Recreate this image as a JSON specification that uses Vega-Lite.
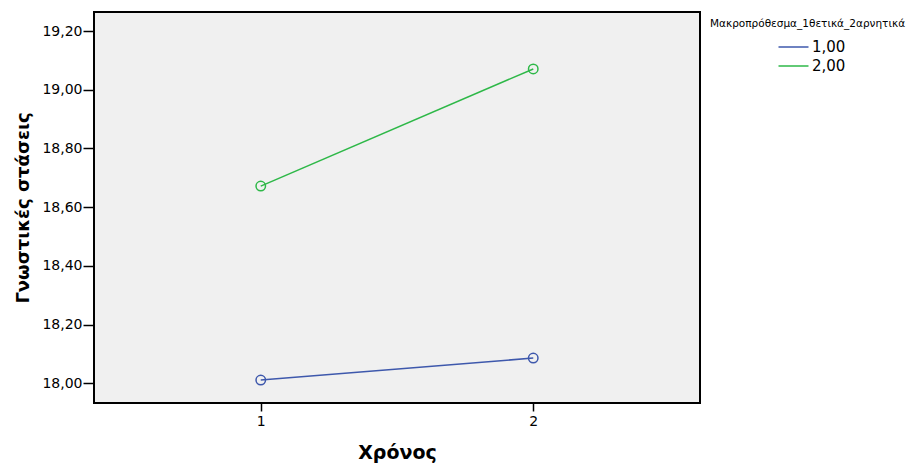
{
  "$schema": "https://vega.github.io/schema/vega-lite/v6.json",
  "width": 606,
  "height": 391,
  "autosize": {"type": "none"},
  "padding": {"left": 94, "top": 12, "right": 218, "bottom": 63},
  "background": "white",
  "config": {
    "locale": {"number": {"decimal": ",", "thousands": ".", "grouping": [3], "currency": ["", " €"]}},
    "view": {"fill": "#f0f0f0", "stroke": "black", "strokeWidth": 2},
    "font": "DejaVu Sans"
  },
  "data": {
    "values": [
      {"time": 1, "group": "1,00", "value": 18.011},
      {"time": 2, "group": "1,00", "value": 18.086},
      {"time": 1, "group": "2,00", "value": 18.672},
      {"time": 2, "group": "2,00", "value": 19.071}
    ]
  },
  "encoding": {
    "x": {
      "field": "time", "type": "quantitative",
      "scale": {"domain": [0.388, 2.612], "nice": false, "zero": false},
      "axis": {
        "values": [1, 2], "format": "d", "grid": false, "domain": false,
        "tickColor": "black", "tickSize": 8, "tickWidth": 1.5,
        "labelFont": "DejaVu Sans", "labelFontSize": 14, "labelColor": "black", "labelPadding": 3,
        "title": "Χρόνος", "titleFont": "DejaVu Sans", "titleFontWeight": "bold", "titleFontSize": 19,
        "titleColor": "black", "titlePadding": 15
      }
    },
    "y": {
      "field": "value", "type": "quantitative",
      "scale": {"domain": [17.933, 19.265], "nice": false, "zero": false},
      "axis": {
        "values": [18.0, 18.2, 18.4, 18.6, 18.8, 19.0, 19.2], "format": ".2f", "grid": false, "domain": false,
        "tickColor": "black", "tickSize": 11, "tickWidth": 1.5,
        "labelFont": "DejaVu Sans", "labelFontSize": 14, "labelColor": "black", "labelPadding": 1,
        "title": "Γνωστικές στάσεις", "titleFont": "DejaVu Sans", "titleFontWeight": "bold", "titleFontSize": 18,
        "titleColor": "black", "titlePadding": 9
      }
    },
    "color": {
      "field": "group", "type": "nominal",
      "scale": {"domain": ["1,00", "2,00"], "range": ["#3e58ac", "#2eb848"]},
      "legend": {
        "orient": "none", "legendX": 616, "legendY": 7, "padding": 0,
        "title": "Μακροπρόθεσμα_1θετικά_2αρνητικά",
        "titleFont": "DejaVu Sans", "titleFontSize": 10.5, "titleFontWeight": "normal", "titleColor": "black",
        "titlePadding": 10, "titleLimit": 400,
        "symbolType": "M-3,0L3,0", "symbolSize": 100, "symbolStrokeWidth": 1.5, "symbolOffset": 76,
        "symbolFillColor": "transparent",
        "labelFont": "DejaVu Sans", "labelFontSize": 15, "labelColor": "black", "labelOffset": 11,
        "rowPadding": 3
      }
    }
  },
  "layer": [
    {"mark": {"type": "line", "strokeWidth": 1.5}},
    {"mark": {"type": "point", "shape": "circle", "filled": false, "size": 90, "strokeWidth": 1.5, "opacity": 1}}
  ]
}
